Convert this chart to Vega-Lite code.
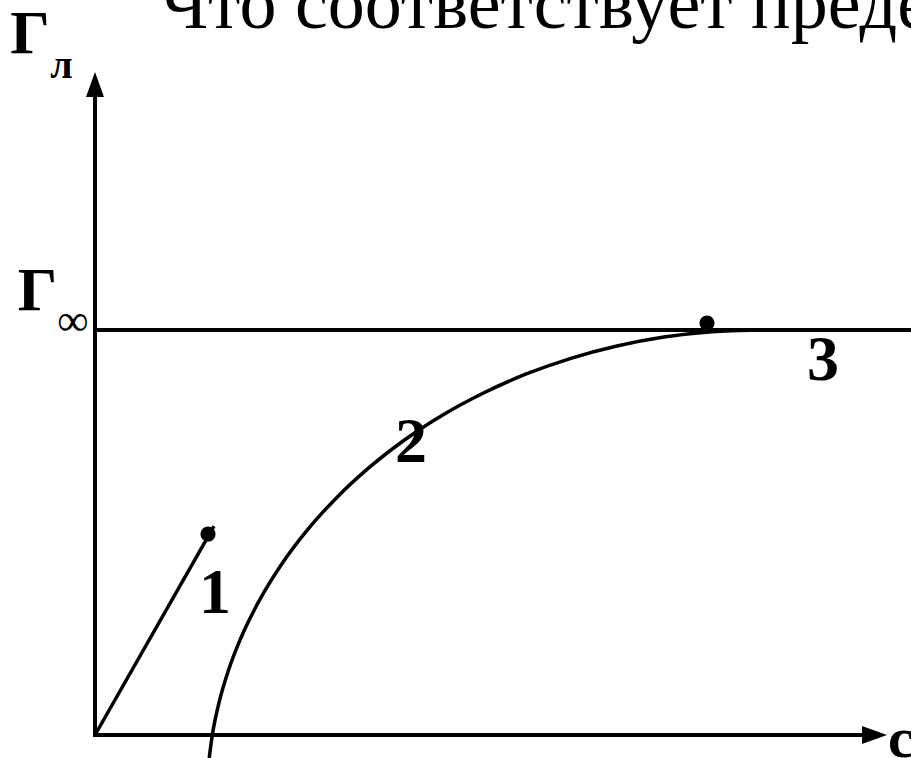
{
  "$schema": "https://vega.github.io/schema/vega-lite/v6.json",
  "width": 911,
  "height": 758,
  "padding": 0,
  "autosize": {"type": "none"},
  "background": "#ffffff",
  "config": {"view": {"stroke": null}, "text": {"font": "Liberation Serif", "color": "#000000"}},
  "encoding": {
    "x": {"field": "c", "type": "quantitative", "scale": {"domain": [-0.95, 8.16], "nice": false, "zero": false}, "axis": null},
    "y": {"field": "g", "type": "quantitative", "scale": {"domain": [-0.0568, 1.8148], "nice": false, "zero": false}, "axis": null}
  },
  "layer": [
    {
      "data": {"values": [
        {"part": "ось Γ", "c": 0, "g": -0.005, "c2": 0, "g2": 1.58},
        {"part": "ось c", "c": -0.005, "g": 0, "c2": 7.70, "g2": 0},
        {"part": "Γ∞", "c": 0, "g": 1, "c2": 8.2, "g2": 1}
      ]},
      "mark": {"type": "rule", "color": "#000000", "strokeWidth": 4},
      "encoding": {"x2": {"field": "c2"}, "y2": {"field": "g2"}}
    },
    {
      "data": {"values": [
        {"series": "1", "c": 0, "g": 0},
        {"series": "1", "c": 1.19, "g": 0.516},
        {"series": "2", "c": 1.142, "g": -0.0568},
        {"series": "2", "c": 1.174, "g": 0.001},
        {"series": "2", "c": 1.241, "g": 0.0807},
        {"series": "2", "c": 1.334, "g": 0.1593},
        {"series": "2", "c": 1.453, "g": 0.2363},
        {"series": "2", "c": 1.638, "g": 0.3299},
        {"series": "2", "c": 1.861, "g": 0.4198},
        {"series": "2", "c": 2.12, "g": 0.5052},
        {"series": "2", "c": 2.414, "g": 0.5854},
        {"series": "2", "c": 2.74, "g": 0.66},
        {"series": "2", "c": 3.095, "g": 0.7284},
        {"series": "2", "c": 3.478, "g": 0.7901},
        {"series": "2", "c": 3.885, "g": 0.8444},
        {"series": "2", "c": 4.313, "g": 0.8914},
        {"series": "2", "c": 4.759, "g": 0.9301},
        {"series": "2", "c": 5.219, "g": 0.9605},
        {"series": "2", "c": 5.69, "g": 0.9825},
        {"series": "2", "c": 6.168, "g": 0.9956},
        {"series": "2", "c": 6.65, "g": 1.0}
      ]},
      "mark": {"type": "line", "color": "#000000", "strokeWidth": 3.5, "interpolate": "monotone"},
      "encoding": {"detail": {"field": "series"}}
    },
    {
      "data": {"values": [
        {"c": 1.13, "g": 0.496},
        {"c": 6.12, "g": 1.017}
      ]},
      "mark": {"type": "point", "shape": "circle", "filled": true, "size": 230, "color": "#000000", "opacity": 1}
    },
    {
      "data": {"values": [{"c": 0, "g": 1.606}]},
      "mark": {"type": "point", "shape": "M0,-1L-0.72,1L0.72,1Z", "filled": true, "size": 625, "color": "#000000", "opacity": 1, "strokeWidth": 0}
    },
    {
      "data": {"values": [{"c": 7.795, "g": 0}]},
      "mark": {"type": "point", "shape": "M1,0L-1,-0.72L-1,0.72Z", "filled": true, "size": 625, "color": "#000000", "opacity": 1, "strokeWidth": 0}
    },
    {
      "data": {"values": [{"label": "Что соответствует предельной адсорбции", "c": 0.65, "g": 1.745}]},
      "mark": {"type": "text", "fontSize": 74, "align": "left", "baseline": "alphabetic"},
      "encoding": {"text": {"field": "label"}}
    },
    {
      "data": {"values": [
        {"label": "Γ", "c": -0.65, "g": 1.684},
        {"label": "Γ", "c": -0.575, "g": 1.049}
      ]},
      "mark": {"type": "text", "fontSize": 62, "fontWeight": "bold", "align": "center", "baseline": "alphabetic"},
      "encoding": {"text": {"field": "label"}}
    },
    {
      "data": {"values": [{"label": "л", "c": -0.335, "g": 1.622}]},
      "mark": {"type": "text", "fontSize": 40, "fontWeight": "bold", "align": "center", "baseline": "alphabetic"},
      "encoding": {"text": {"field": "label"}}
    },
    {
      "data": {"values": [{"label": "∞", "c": -0.22, "g": 0.988}]},
      "mark": {"type": "text", "fontSize": 44, "align": "center", "baseline": "alphabetic"},
      "encoding": {"text": {"field": "label"}}
    },
    {
      "data": {"values": [
        {"label": "1", "c": 1.2, "g": 0.301},
        {"label": "2", "c": 3.16, "g": 0.674},
        {"label": "3", "c": 7.28, "g": 0.877}
      ]},
      "mark": {"type": "text", "fontSize": 64, "fontWeight": "bold", "align": "center", "baseline": "alphabetic"},
      "encoding": {"text": {"field": "label"}}
    },
    {
      "data": {"values": [{"label": "c", "c": 7.93, "g": -0.0543}]},
      "mark": {"type": "text", "fontSize": 58, "fontWeight": "bold", "align": "left", "baseline": "alphabetic"},
      "encoding": {"text": {"field": "label"}}
    }
  ]
}
